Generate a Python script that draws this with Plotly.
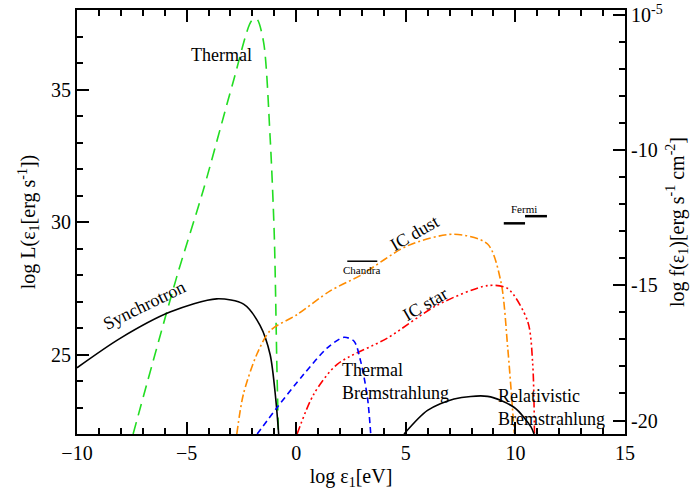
import plotly.graph_objects as go

# Curves (log eps [eV], log L [erg/s])
thermal_x = [-7.44, -5.46, -4.24, -2.87, -2.03, -1.8, -1.49, -1.19, -1.0, -0.88, -0.81]
thermal_y = [22.0, 27.9, 31.2, 35.3, 37.6, 37.66, 36.8, 33.2, 29.5, 24.5, 22.0]

synch_x = [-10.0, -8.05, -5.76, -3.63, -2.4, -1.65, -1.19, -0.93, -0.8]
synch_y = [24.5, 25.6, 26.6, 27.1, 26.9, 26.1, 25.0, 23.3, 22.0]

icdust_x = [-2.71, -2.41, -1.8, -1.19, 0.03, 1.55, 2.94, 5.07, 7.2, 8.73, 9.34, 9.65, 9.95]
icdust_y = [22.0, 23.5, 25.0, 25.9, 26.5, 27.4, 27.99, 29.1, 29.54, 29.17, 27.74, 25.25, 22.03]

icstar_x = [0.04, 0.8, 1.87, 4.16, 6.45, 8.73, 9.65, 10.56, 10.79, 10.87]
icstar_y = [22.0, 23.5, 24.63, 25.62, 26.87, 27.6, 27.49, 26.25, 24.63, 22.0]

tbrems_x = [-1.78, -0.87, 0.35, 1.42, 2.18, 2.64, 2.94, 3.25, 3.4]
tbrems_y = [22.0, 23.0, 24.26, 25.25, 25.65, 25.5, 24.75, 23.38, 22.0]

rbrems_x = [4.92, 5.99, 7.2, 8.73, 9.95, 10.71, 10.85]
rbrems_y = [22.0, 22.89, 23.32, 23.42, 23.0, 22.27, 22.0]

chandra_x = [2.33, 3.70]
chandra_y = [28.52, 28.52]
fermi1_x = [9.47, 10.44]
fermi1_y = [29.95, 29.95]
fermi2_x = [10.44, 11.44]
fermi2_y = [30.22, 30.22]

FONT = "Times New Roman, Liberation Serif, serif"

fig = go.Figure()


def add(x, y, color, dash, width=1.6, shape="spline"):
    fig.add_trace(go.Scatter(x=x, y=y, mode="lines", showlegend=False,
                             line=dict(color=color, dash=dash, width=width,
                                       shape=shape, smoothing=0.8)))


add(thermal_x, thermal_y, "#22dd22", "12px,7px")
add(synch_x, synch_y, "black", "solid")
add(icdust_x, icdust_y, "#ff8c00", "8px,3px,2px,3px")
add(icstar_x, icstar_y, "#ff0000", "8px,3px,2px,3px,2px,3px,2px,3px")
add(tbrems_x, tbrems_y, "#0000ff", "6px,4px")
add(rbrems_x, rbrems_y, "black", "solid")
add(chandra_x, chandra_y, "black", "solid", 1.5, "linear")
add(fermi1_x, fermi1_y, "black", "solid", 2.5, "linear")
add(fermi2_x, fermi2_y, "black", "solid", 2.5, "linear")
# dummy trace so the right axis is drawn
fig.add_trace(go.Scatter(x=[None], y=[None], yaxis="y2", showlegend=False))

labels = [
    (-3.4, 36.3, "Thermal", 0, 18, "center"),
    (-6.9, 26.85, "Synchrotron", -26, 18, "center"),
    (5.4, 29.6, "IC dust", -30, 18, "center"),
    (5.9, 26.9, "IC star", -30, 18, "center"),
    (2.0, 24.0, "Thermal<br>Bremstrahlung", 0, 18, "left"),
    (9.1, 23.0, "Relativistic<br>Bremstrahlung", 0, 18, "left"),
    (3.0, 28.2, "Chandra", 0, 11, "center"),
    (10.4, 30.5, "Fermi", 0, 11, "center"),
]
for x, y, t, ang, sz, al in labels:
    fig.add_annotation(x=x, y=y, text=t, showarrow=False, textangle=ang,
                       xanchor=al, align="left",
                       font=dict(family=FONT, size=sz, color="black"))

tick_common = dict(ticks="inside", ticklen=12, tickwidth=1.5, tickcolor="black",
                   showgrid=False, zeroline=False, showline=True, linecolor="black",
                   linewidth=2, automargin=False, ticklabeloverflow="allow",
                   tickfont=dict(family=FONT, size=20, color="black"),
                   minor=dict(dtick=1, ticks="inside", ticklen=6, tickcolor="black"))

fig.update_layout(
    width=700, height=500, plot_bgcolor="white", paper_bgcolor="white",
    margin=dict(l=77, r=75, t=10, b=66),
    font=dict(family=FONT, color="black"),
    xaxis=dict(range=[-10, 15], dtick=5, mirror="ticks",
               title=dict(text="log ε<sub>1</sub>[eV]", font=dict(family=FONT, size=20), standoff=6),
               **tick_common),
    yaxis=dict(range=[22, 38], tickvals=[25, 30, 35],
               title=dict(text="log L(ε<sub>1</sub>[erg s<sup>-1</sup>])", font=dict(family=FONT, size=20), standoff=10),
               **tick_common),
    yaxis2=dict(range=[-20.5, -4.8], overlaying="y", side="right",
                tickvals=[-5, -10, -15, -20],
                ticktext=["10<sup>-5</sup>", "-10", "-15", "-20"],
                title=dict(text="log f(ε<sub>1</sub>)[erg s<sup>-1</sup> cm<sup>-2</sup>]", font=dict(family=FONT, size=20), standoff=8),
                **tick_common),
)

# drop the browser's default body margin so the figure sits at the page corner
fig.write_html("out.html", config={"displayModeBar": False},
               post_script="document.body.style.margin='0';")
